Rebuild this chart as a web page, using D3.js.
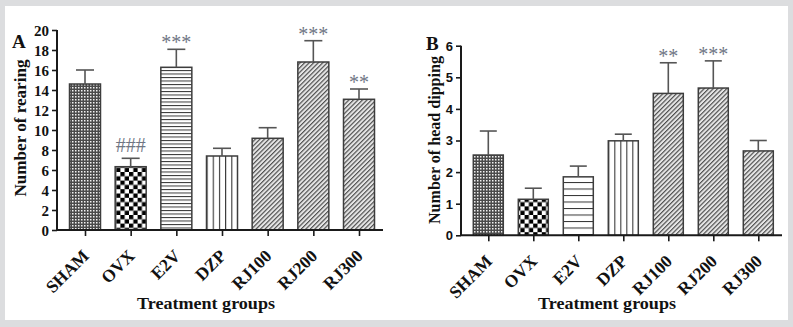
<!DOCTYPE html>
<html><head><meta charset="utf-8">
<script src="https://cdn.jsdelivr.net/npm/d3@7"></script>
<style>
html,body{margin:0;padding:0;background:#dcdddf;}
svg{display:block;}
</style></head>
<body>
<svg id="chart" width="793" height="327"></svg>
<script>
// ---- data ----
const categories = ["SHAM", "OVX", "E2V", "DZP", "RJ100", "RJ200", "RJ300"];
const rearingMean = [14.6, 6.33, 16.27, 7.4, 9.17, 16.8, 13.07];
const rearingSEM  = [1.4, 0.84, 1.8, 0.77, 1.06, 2.13, 1.03];
const rearingMarks = ["", "###", "***", "", "", "***", "**"];
const rearingTicks = [0, 2, 4, 6, 8, 10, 12, 14, 16, 18, 20];
const dippingMean = [2.54, 1.14, 1.85, 2.99, 4.49, 4.66, 2.67];
const dippingSEM  = [0.76, 0.35, 0.34, 0.21, 0.97, 0.86, 0.33];
const dippingMarks = ["", "", "", "", "**", "***", ""];
const dippingTicks = [0, 1, 2, 3, 4, 5, 6];
const patternKeys = ["dense", "checker", "hlines", "vlines", "diag", "diag", "diag"];

const svg = d3.select("#chart");
svg.append("rect").attr("x", 5).attr("y", 6).attr("width", 783).attr("height", 314).attr("fill", "#fff");

const defs = svg.append("defs");
function makePatterns(prefix, hSpacing) {
  // dense fine dotted texture
  let p = defs.append("pattern").attr("id", prefix + "dense").attr("patternUnits", "userSpaceOnUse")
    .attr("width", 3).attr("height", 3);
  p.append("rect").attr("width", 3).attr("height", 3).attr("fill", "#4a4a4a");
  p.append("rect").attr("width", 1.5).attr("height", 1.5).attr("fill", "#f2f2f2");
  // coarse checker
  p = defs.append("pattern").attr("id", prefix + "checker").attr("patternUnits", "userSpaceOnUse")
    .attr("width", 8.6).attr("height", 8.6);
  p.append("rect").attr("width", 8.6).attr("height", 8.6).attr("fill", "#fff");
  p.append("rect").attr("width", 4.3).attr("height", 4.3).attr("fill", "#000");
  p.append("rect").attr("x", 4.3).attr("y", 4.3).attr("width", 4.3).attr("height", 4.3).attr("fill", "#000");
  // horizontal lines
  p = defs.append("pattern").attr("id", prefix + "hlines").attr("patternUnits", "userSpaceOnUse")
    .attr("width", 10).attr("height", hSpacing);
  p.append("rect").attr("width", 10).attr("height", hSpacing).attr("fill", "#fff");
  p.append("line").attr("x1", 0).attr("x2", 10).attr("y1", 0.5).attr("y2", 0.5)
    .attr("stroke", "#333").attr("stroke-width", 1);
  // vertical lines (5 divisions per bar)
  p = defs.append("pattern").attr("id", prefix + "vlines").attr("patternUnits", "objectBoundingBox")
    .attr("width", 0.2).attr("height", 1).attr("patternContentUnits", "objectBoundingBox");
  p.append("rect").attr("width", 0.2).attr("height", 1).attr("fill", "#fff");
  p.append("rect").attr("x", 0).attr("width", 0.035).attr("height", 1).attr("fill", "#333");
  // diagonal
  p = defs.append("pattern").attr("id", prefix + "diag").attr("patternUnits", "userSpaceOnUse")
    .attr("width", 3.2).attr("height", 3.2).attr("patternTransform", "rotate(45)");
  p.append("rect").attr("width", 3.2).attr("height", 3.2).attr("fill", "#e6e6e6");
  p.append("line").attr("x1", 0.6).attr("x2", 0.6).attr("y1", 0).attr("y2", 3.2)
    .attr("stroke", "#444").attr("stroke-width", 1.1);
}
makePatterns("A_", 3.5);
makePatterns("B_", 6.5);

function drawPanel(cfg) {
  const g = svg.append("g");
  const y = d3.scaleLinear().domain(cfg.yDomain).range([cfg.y0, cfg.yTop]);
  const x = d3.scalePoint().domain(categories).range(cfg.xRange);
  const bw = cfg.barWidth;

  // bars
  g.selectAll("rect.bar").data(cfg.means).join("rect")
    .attr("class", "bar")
    .attr("x", (d, i) => x(categories[i]) - bw / 2)
    .attr("y", d => y(d))
    .attr("width", bw)
    .attr("height", d => cfg.y0 - y(d))
    .attr("fill", (d, i) => `url(#${cfg.prefix}${patternKeys[i]})`)
    .attr("stroke", "#3d3d3d").attr("stroke-width", 1.5);

  // error bars
  const eg = g.selectAll("g.err").data(cfg.means).join("g").attr("class", "err");
  eg.append("line")
    .attr("x1", (d, i) => x(categories[i])).attr("x2", (d, i) => x(categories[i]))
    .attr("y1", d => y(d)).attr("y2", (d, i) => y(d + cfg.sems[i]))
    .attr("stroke", "#555").attr("stroke-width", 1.6);
  eg.append("line")
    .attr("x1", (d, i) => x(categories[i]) - cfg.cap / 2).attr("x2", (d, i) => x(categories[i]) + cfg.cap / 2)
    .attr("y1", (d, i) => y(d + cfg.sems[i])).attr("y2", (d, i) => y(d + cfg.sems[i]))
    .attr("stroke", "#555").attr("stroke-width", 1.6);

  // significance marks
  g.selectAll("text.mark").data(cfg.marks).join("text")
    .attr("class", "mark")
    .attr("x", (d, i) => x(categories[i]))
    .attr("y", (d, i) => y(cfg.means[i] + cfg.sems[i]) - (d.startsWith("#") ? 6 : 0))
    .attr("text-anchor", "middle")
    .attr("font-family", "'Liberation Serif', serif")
    .attr("font-size", d => d.startsWith("#") ? 20 : 20)
    .attr("fill", "#6f7684")
    .text(d => d);

  // y axis
  const yAxis = d3.axisLeft(y).tickValues(cfg.ticks).tickSize(5).tickPadding(3).tickFormat(d3.format("d"));
  const ya = g.append("g").attr("transform", `translate(${cfg.xAxisStart},0)`).call(yAxis);
  ya.select(".domain").attr("stroke", "#1a1a1a").attr("stroke-width", 2).attr("d", `M0,${cfg.yTop}V${cfg.y0}`);
  ya.selectAll(".tick line").attr("stroke", "#1a1a1a").attr("stroke-width", 1.6);
  ya.selectAll(".tick text")
    .attr("font-family", cfg.tickFont).attr("font-weight", "bold").attr("font-size", cfg.tickSize)
    .attr("fill", "#111").attr("dy", "0.34em");

  // x axis
  const xAxis = d3.axisBottom(x).tickSize(6).tickFormat("");
  const xa = g.append("g").attr("transform", `translate(0,${cfg.y0})`).call(xAxis);
  xa.select(".domain").attr("stroke", "#1a1a1a").attr("stroke-width", 2)
    .attr("d", `M${cfg.xAxisStart},0H${cfg.xAxisEnd}`);
  xa.selectAll(".tick line").attr("stroke", "#1a1a1a").attr("stroke-width", 1.6);

  // category labels
  g.selectAll("text.cat").data(categories).join("text")
    .attr("class", "cat")
    .attr("transform", d => `translate(${x(d) + 5},${cfg.y0 + 27}) rotate(-45)`)
    .attr("text-anchor", "end")
    .attr("font-family", "'Liberation Serif', serif").attr("font-weight", "bold")
    .attr("font-size", 17.5).attr("fill", "#111")
    .text(d => d);

  // x title
  g.append("text")
    .attr("x", cfg.xTitleX).attr("y", 309)
    .attr("text-anchor", "middle")
    .attr("font-family", "'Liberation Serif', serif").attr("font-weight", "bold")
    .attr("font-size", 17).attr("fill", "#111")
    .attr("textLength", 138).attr("lengthAdjust", "spacingAndGlyphs")
    .text("Treatment groups");

  // y title
  g.append("text")
    .attr("transform", `translate(${cfg.yTitleX},${cfg.yTitleY}) rotate(-90)`)
    .attr("text-anchor", "middle")
    .attr("font-family", "'Liberation Serif', serif").attr("font-weight", "bold")
    .attr("font-size", 16.5).attr("fill", "#111")
    .attr("textLength", cfg.yTitleLen).attr("lengthAdjust", "spacingAndGlyphs")
    .text(cfg.yTitle);

  // panel letter
  g.append("text")
    .attr("x", cfg.letterX).attr("y", cfg.letterY)
    .attr("font-family", "'Liberation Serif', serif").attr("font-weight", "bold")
    .attr("font-size", 19).attr("fill", "#111")
    .text(cfg.letter);
}

drawPanel({
  prefix: "A_", means: rearingMean, sems: rearingSEM, marks: rearingMarks, ticks: rearingTicks,
  yDomain: [0, 20], y0: 230, yTop: 30, xRange: [85, 359], barWidth: 31, cap: 18,
  xAxisStart: 57, xAxisEnd: 383, tickFont: "'Liberation Serif', serif", tickSize: 15,
  xTitleX: 206, yTitle: "Number of rearing", yTitleX: 26, yTitleY: 128, yTitleLen: 137,
  letter: "A", letterX: 12, letterY: 48
});
drawPanel({
  prefix: "B_", means: dippingMean, sems: dippingSEM, marks: dippingMarks, ticks: dippingTicks,
  yDomain: [0, 6], y0: 235.3, yTop: 45.7, xRange: [488.3, 758.3], barWidth: 30, cap: 17,
  xAxisStart: 461, xAxisEnd: 782, tickFont: "'Liberation Sans', Arial, sans-serif", tickSize: 13,
  xTitleX: 607, yTitle: "Number of head dipping", yTitleX: 440, yTitleY: 140, yTitleLen: 168,
  letter: "B", letterX: 426, letterY: 50
});
</script>
</body></html>
